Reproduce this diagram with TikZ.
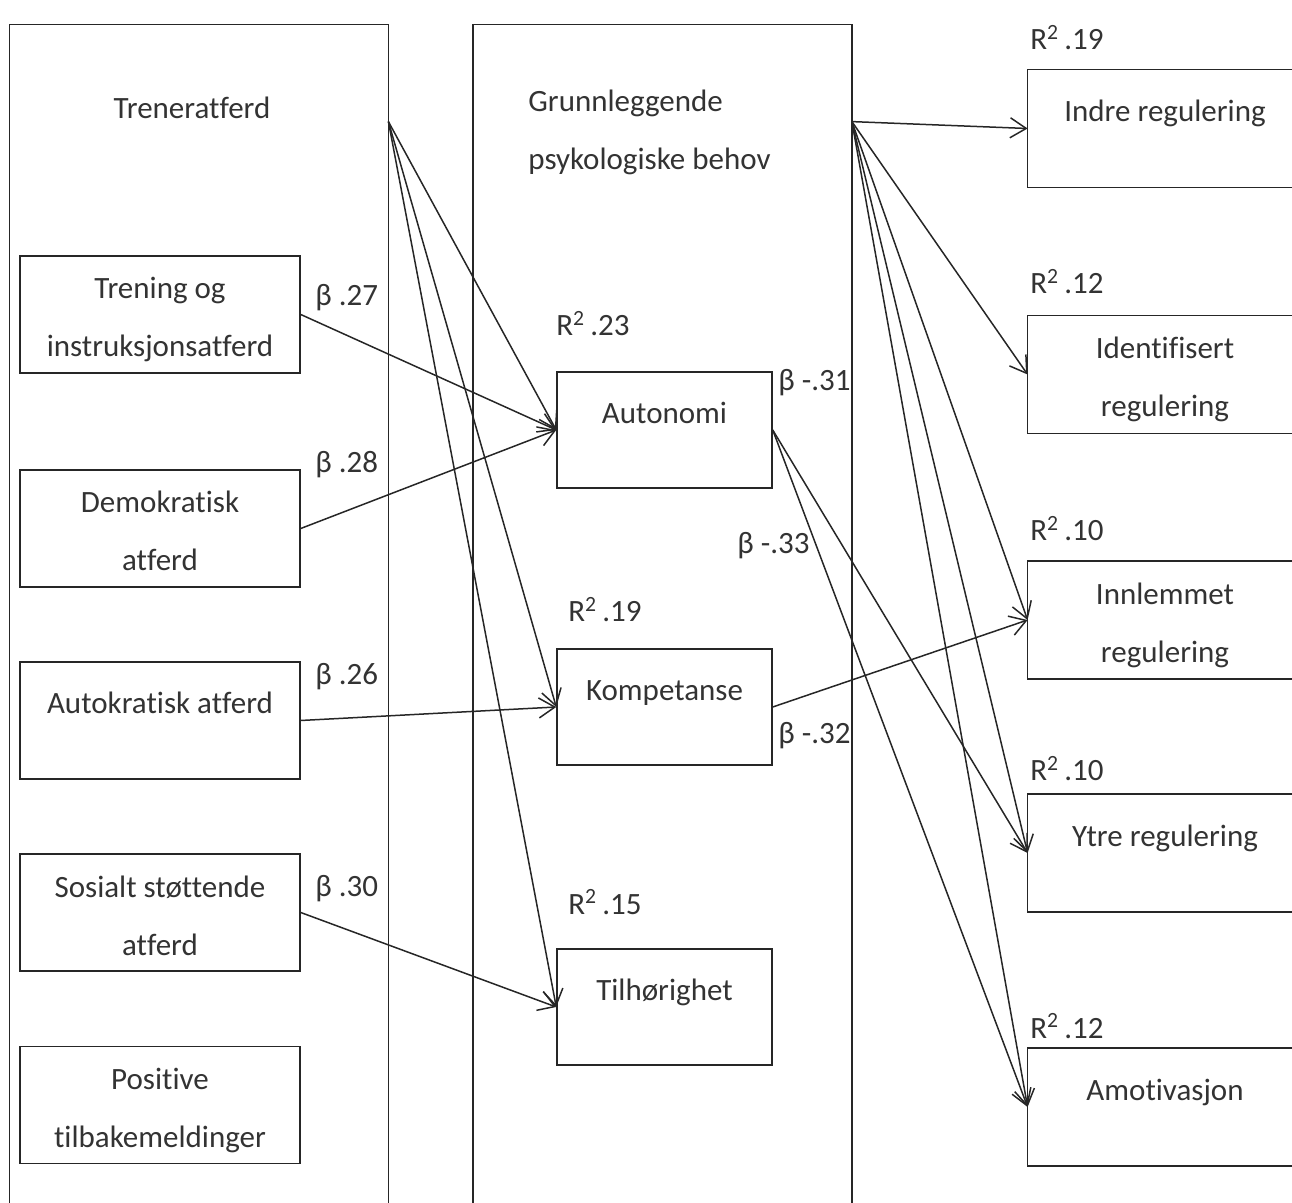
\documentclass[tikz,border=0pt]{standalone}
\usepackage{fontspec}
\setmainfont[Ligatures=CommonOff]{Carlito}
\usetikzlibrary{arrows.meta}
\newcommand{\twol}[2]{\rule{0pt}{18.5pt}#1\\#2\rule[-5pt]{0pt}{5pt}}
\newcommand{\onel}[1]{\rule{0pt}{12pt}#1\rule[-18.5pt]{0pt}{18.5pt}}
\newcommand{\rsq}[1]{R\textsuperscript{2}\,#1}
\begin{document}
\begin{tikzpicture}[x=0.5pt,y=-0.5pt,
  every node/.style={font=\fontsize{15.5}{29}\selectfont, text=black!80},
  ln/.style={draw=black!85, line width=0.75pt},
  arr/.style={ln, -{Straight Barb[length=8pt,width=10pt]}},
  bigbox/.style={minimum width=189pt, minimum height=589pt, inner sep=0pt},
  lbox/.style={draw=black!85, line width=0.75pt, minimum width=140pt, minimum height=58.5pt, inner sep=0pt, align=center},
  mbox/.style={draw=black!85, line width=0.75pt, minimum width=107.5pt, minimum height=58pt, inner sep=0pt, align=center},
  rbox/.style={minimum width=137pt, minimum height=58.5pt, inner sep=0pt, align=center},
  lab/.style={anchor=base west, inner sep=0pt}]
\useasboundingbox (0,0) rectangle (1292,1203);

% big frames
\node[bigbox] (lbig) at (199,614) {};
\node[bigbox] (mbig) at (662.5,614) {};
\draw[ln] (lbig.south west) -- (lbig.north west) -- (lbig.north east) -- (lbig.south east);
\draw[ln] (mbig.south west) -- (mbig.north west) -- (mbig.north east) -- (mbig.south east);
\coordinate (tsrc) at ([yshift=-48.5pt]lbig.north east);
\coordinate (gsrc) at ([yshift=-48.5pt]mbig.north east);

\node[anchor=base, inner sep=0pt] (ttl1) at (192,119) {Treneratferd};
\node[anchor=north west, inner sep=0pt, align=left] (ttl2) at (528,87) {\rule{0pt}{12pt}Grunnleggende\\psykologiske behov};

% left boxes
\node[lbox] (tren) at (160,314.5) {\twol{Trening og}{instruksjonsatferd}};
\node[lbox] (demo) at (160,528.5) {\twol{Demokratisk}{atferd}};
\node[lbox] (autok) at (160,720.5) {\onel{Autokratisk atferd}};
\node[lbox] (sos) at (160,912.5) {\twol{Sosialt støttende}{atferd}};
\node[lbox] (pos) at (160,1105) {\twol{Positive}{tilbakemeldinger}};

% middle boxes
\node[mbox] (auto) at (664.5,430) {\onel{Autonomi}};
\node[mbox] (komp) at (664.5,707) {\onel{Kompetanse}};
\node[mbox] (tilh) at (664.5,1007) {\onel{Tilhørighet}};

% right boxes (open at right)
\node[rbox] (indre) at (1165,128.5) {\onel{Indre regulering}};
\node[rbox] (ident) at (1165,374.5) {\twol{Identifisert}{regulering}};
\node[rbox] (innl) at (1165,620) {\twol{Innlemmet}{regulering}};
\node[rbox] (ytre) at (1165,853) {\onel{Ytre regulering}};
\node[rbox] (amot) at (1165,1107) {\onel{Amotivasjon}};
\foreach \b in {indre,ident,innl,ytre,amot}{
  \draw[ln] ([xshift=132pt]\b.north west) -- (\b.north west) -- (\b.south west) -- ([xshift=132pt]\b.south west);
}

% labels
\node[lab] (b27) at (315,306) {β .27};
\node[lab] (b28) at (315,473) {β .28};
\node[lab] (b26) at (315,685) {β .26};
\node[lab] (b30) at (315,896) {β .30};
\node[lab] (r23) at (556,336) {\rsq{.23}};
\node[lab] (b31) at (778,391) {β -.31};
\node[lab] (b33) at (737,554) {β -.33};
\node[lab] (r19m) at (568,622) {\rsq{.19}};
\node[lab] (b32) at (778,744) {β -.32};
\node[lab] (r15) at (568,914) {\rsq{.15}};
\node[lab] (r19) at (1030,50) {\rsq{.19}};
\node[lab] (r12a) at (1030,294) {\rsq{.12}};
\node[lab] (r10a) at (1030,541) {\rsq{.10}};
\node[lab] (r10b) at (1030,781) {\rsq{.10}};
\node[lab] (r12b) at (1030,1038) {\rsq{.12}};

% connectors
\draw[arr] (tsrc) -- (auto.west);
\draw[arr] (tsrc) -- (komp.west);
\draw[arr] (tsrc) -- (tilh.west);
\draw[arr] (tren.east) -- (auto.west);
\draw[arr] (demo.east) -- (auto.west);
\draw[arr] (autok.east) -- (komp.west);
\draw[arr] (sos.east) -- (tilh.west);
\draw[arr] (gsrc) -- (indre.west);
\draw[arr] (gsrc) -- (ident.west);
\draw[arr] (gsrc) -- (innl.west);
\draw[arr] (gsrc) -- (ytre.west);
\draw[arr] (gsrc) -- (amot.west);
\draw[arr] (auto.east) -- (ytre.west);
\draw[arr] (auto.east) -- (amot.west);
\draw[arr] (komp.east) -- (innl.west);
\end{tikzpicture}
\end{document}
